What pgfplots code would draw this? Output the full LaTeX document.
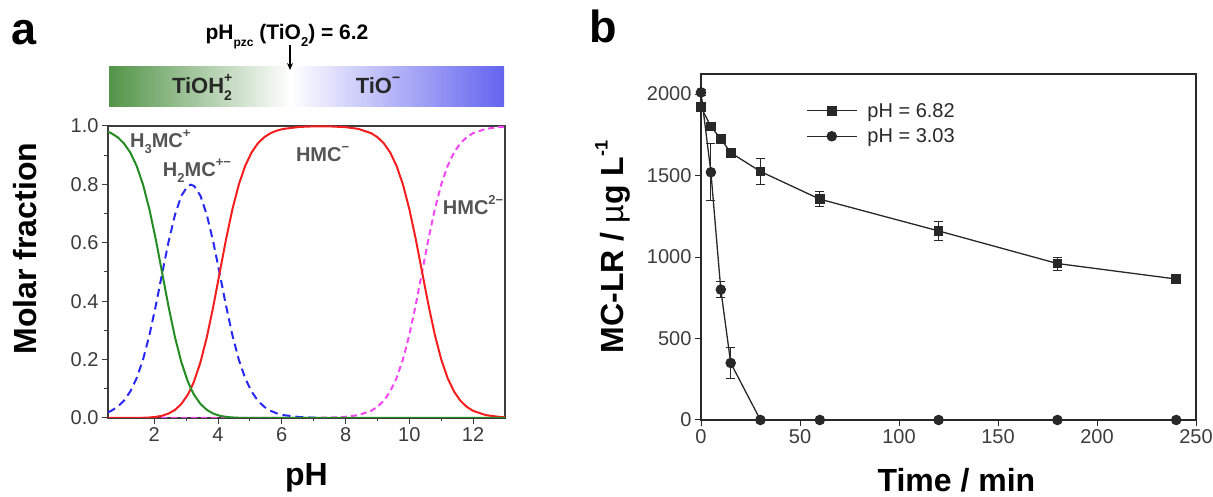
\documentclass[border=0pt]{standalone}
\usepackage{fontspec}
\setmainfont{Liberation Sans}
\usepackage{pgfplots}
\pgfplotsset{compat=1.18}
\usetikzlibrary{arrows.meta}

\definecolor{cgreen}{RGB}{35,140,35}
\definecolor{cblue}{RGB}{40,40,245}
\definecolor{cred}{RGB}{245,30,30}
\definecolor{cmag}{RGB}{245,70,245}
\definecolor{lblgray}{RGB}{85,85,85}
\definecolor{tickgray}{RGB}{60,60,60}
\definecolor{barg}{RGB}{82,148,72}
\definecolor{barb}{RGB}{100,100,240}
\definecolor{ink}{RGB}{40,40,40}

\newcommand\fs[1]{\fontsize{#1}{#1}\selectfont}
\newcommand\lo[2]{\raisebox{-0.3em}{\fs{#1}#2}}
\newcommand\hi[2]{\raisebox{0.5em}{\fs{#1}#2}}

\begin{document}
\begin{tikzpicture}
\useasboundingbox (0pt,0pt) rectangle (1213pt,497pt);

% panel letters
\node[anchor=base west, inner sep=0] at (11pt,452pt) {\fs{45}\bfseries a};
\node[anchor=base west, inner sep=0] at (589pt,454pt) {\fs{45}\bfseries b};

% surface charge bar
\shade[left color=barg, right color=white] (109pt,390pt) rectangle (290pt,430pt);
\shade[left color=white, right color=barb] (290pt,390pt) rectangle (504pt,430pt);
\node[anchor=base, inner sep=0, text=ink] at (202pt,403pt) {\fs{22}\bfseries TiOH\rlap{\hi{14}{+}}\lo{14}{2}};
\node[anchor=base, inner sep=0, text=ink] at (378pt,403pt) {\fs{22}\bfseries TiO\hi{14}{−}};
\node[anchor=base, inner sep=0] at (287pt,457pt) {\fs{21}\bfseries pH\lo{12}{pzc} (TiO\lo{13}{2}) = 6.2};
\draw[-{Stealth[length=7pt,width=6pt]}, line width=1.2pt] (290pt,452pt) -- (290pt,427pt);

% ---------------- panel a ----------------
\begin{axis}[
  at={(108pt,79pt)}, anchor=south west, scale only axis,
  width=397pt, height=292pt,
  xmin=0.55, xmax=13, ymin=0, ymax=1,
  xtick={2,4,...,12}, ytick={0,0.2,0.4,0.6,0.8,1.0},
  minor x tick num=1, minor y tick num=1,
  tick pos=left, tick align=outside,
  major tick length=6pt, minor tick length=3.5pt,
  axis line style={draw=tickgray, line width=1.1pt},
  every tick/.style={draw=tickgray, line width=1pt},
  ticklabel style={font=\fs{20}, text=tickgray},
  yticklabel style={/pgf/number format/.cd, fixed, fixed zerofill, precision=1},
  /pgf/number format/assume math mode=true,
  xlabel={pH}, ylabel={Molar fraction},
  label style={font=\fs{32}\bfseries},
  xlabel style={at={(axis description cs:0.5,-0.205)}, anchor=center},
  ylabel style={at={(axis description cs:-0.209,0.58)}, anchor=center},
]
\addplot[cmag, line width=2pt, dash pattern=on 6pt off 4pt] coordinates {
(1.9,0) (7.0,0.0004) (7.5,0.0013) (8.0,0.004) (8.4,0.0099) (8.8,0.0245) (9.0,0.0383)
(9.2,0.0593) (9.4,0.0909) (9.6,0.1368) (9.8,0.2006) (10.0,0.2847) (10.2,0.3869)
(10.4,0.5) (10.6,0.6131) (10.8,0.7153) (11.0,0.7994) (11.2,0.8632) (11.4,0.9091)
(11.6,0.9407) (11.8,0.9617) (12.0,0.9755) (12.4,0.9901) (12.8,0.996) (13,0.9975)};
\addplot[cblue, line width=2pt, dash pattern=on 8pt off 5pt] coordinates {
(0.55,0.0196) (0.65,0.0245) (0.85,0.0383) (1.05,0.0593) (1.25,0.0909) (1.45,0.1368)
(1.65,0.2006) (1.85,0.2842) (2.05,0.3854) (2.25,0.4961) (2.45,0.6039) (2.65,0.6955)
(2.85,0.7609) (3.05,0.7946) (3.15,0.7989) (3.25,0.7946) (3.45,0.7609) (3.65,0.6955)
(3.85,0.6039) (4.05,0.4961) (4.25,0.3854) (4.45,0.2842) (4.65,0.2006) (4.85,0.1368)
(5.05,0.0909) (5.25,0.0593) (5.45,0.0383) (5.65,0.0245) (5.85,0.0156) (6.05,0.0099)
(6.55,0.0032) (7.05,0.001)};
\addplot[cred, line width=2pt] coordinates {
(0.55,0) (1.05,0.0001) (1.25,0.0001) (1.45,0.0003) (1.65,0.0008) (1.85,0.0018)
(2.05,0.0039) (2.25,0.0078) (2.45,0.0152) (2.65,0.0277) (2.85,0.048) (3.05,0.0795)
(3.15,0.1006) (3.25,0.1259) (3.45,0.1911) (3.65,0.2769) (3.85,0.381) (4.05,0.4961)
(4.25,0.6108) (4.45,0.714) (4.65,0.7986) (4.85,0.8629) (5.05,0.909) (5.25,0.9406)
(5.45,0.9617) (5.65,0.9755) (5.85,0.9844) (6.05,0.99) (6.55,0.9968) (7.05,0.999)
(7.5,0.9987) (8.0,0.996) (8.4,0.9901) (8.8,0.9755) (9.0,0.9617) (9.2,0.9407)
(9.4,0.9091) (9.6,0.8632) (9.8,0.7994) (10.0,0.7153) (10.2,0.6131) (10.4,0.5)
(10.6,0.3869) (10.8,0.2847) (11.0,0.2006) (11.2,0.1368) (11.4,0.0909) (11.6,0.0593)
(11.8,0.0383) (12.0,0.0245) (12.4,0.0099) (12.8,0.004) (13,0.0025)};
\addplot[cgreen, line width=2pt] coordinates {
(0.55,0.980) (0.65,0.9755) (0.85,0.9617) (1.05,0.9406) (1.25,0.909) (1.45,0.8629)
(1.65,0.7986) (1.85,0.714) (2.05,0.6108) (2.25,0.4961) (2.45,0.381) (2.65,0.2769)
(2.85,0.1911) (3.05,0.1259) (3.15,0.1006) (3.25,0.0795) (3.45,0.048) (3.65,0.0277)
(3.85,0.0152) (4.05,0.0078) (4.25,0.0039) (4.45,0.0018) (4.65,0.0008) (4.85,0.0003)
(5.05,0.0001) (13,0)};
\node[text=lblgray, font=\fs{20}\bfseries] at (axis cs:2.19,0.945) {H\lo{13}{3}MC\hi{13}{+}};
\node[text=lblgray, font=\fs{20}\bfseries] at (axis cs:3.34,0.848) {H\lo{13}{2}MC\hi{13}{+−}};
\node[text=lblgray, font=\fs{20}\bfseries] at (axis cs:7.28,0.905) {HMC\hi{13}{−}};
\node[text=lblgray, font=\fs{20}\bfseries] at (axis cs:12.0,0.728) {HMC\hi{13}{2−}};
\end{axis}

% ---------------- panel b ----------------
\begin{axis}[
  at={(701pt,77pt)}, anchor=south west, scale only axis,
  width=495pt, height=346pt,
  xmin=0, xmax=250, ymin=0, ymax=2123,
  xtick={0,50,...,250}, ytick={0,500,...,2000},
  tick pos=left, tick align=outside,
  major tick length=6pt, clip=false,
  axis line style={draw=ink, line width=1.1pt},
  every tick/.style={draw=ink, line width=1pt},
  ticklabel style={font=\fs{20}, text=tickgray},
  /pgf/number format/.cd, 1000 sep={}, assume math mode=true, /pgfplots/.cd,
  xlabel={Time / min}, ylabel={MC-LR / \mdseries µ\bfseries g L\hi{18}{-1}},
  label style={font=\fs{32}\bfseries},
  xlabel style={at={(axis description cs:0.516,-0.173)}, anchor=center},
  ylabel style={at={(axis description cs:-0.178,0.5)}, anchor=center},
  legend style={at={(axis cs:53,1819)}, anchor=west, draw=none, fill=none,
    font=\fs{20}, text=ink, row sep=6pt, column sep=8pt, inner sep=0pt},
  legend cell align=left,
  legend image code/.code={\draw[mark repeat=2,mark phase=2,#1]
    plot coordinates {(0pt,0pt) (25pt,0pt) (50pt,0pt)};},
]
\addplot[ink, line width=1.3pt, mark=square*, mark size=4.2pt,
  mark options={solid, fill=ink},
  error bars/.cd, y dir=both, y explicit,
  error bar style={line width=1pt, draw=ink},
  error mark options={rotate=90, line width=1pt, mark size=4.5pt, draw=ink}]
  coordinates {
(0,1920) +- (0,20)
(5,1800) +- (0,20)
(10,1725) +- (0,20)
(15,1640) +- (0,20)
(30,1525) +- (0,80)
(60,1355) +- (0,45)
(120,1160) +- (0,60)
(180,960) +- (0,40)
(240,865) +- (0,15)};
\addlegendentry{pH = 6.82}
\addplot[ink, line width=1.3pt, mark=*, mark size=4.6pt,
  mark options={solid, fill=ink},
  error bars/.cd, y dir=both, y explicit,
  error bar style={line width=1pt, draw=ink},
  error mark options={rotate=90, line width=1pt, mark size=4.5pt, draw=ink}]
  coordinates {
(0,2010) +- (0,20)
(5,1520) +- (0,175)
(10,800) +- (0,50)
(15,350) +- (0,95)
(30,0) +- (0,0)
(60,0) +- (0,0)
(120,0) +- (0,0)
(180,0) +- (0,0)
(240,0) +- (0,0)};
\addlegendentry{pH = 3.03}
\end{axis}
\end{tikzpicture}
\end{document}
